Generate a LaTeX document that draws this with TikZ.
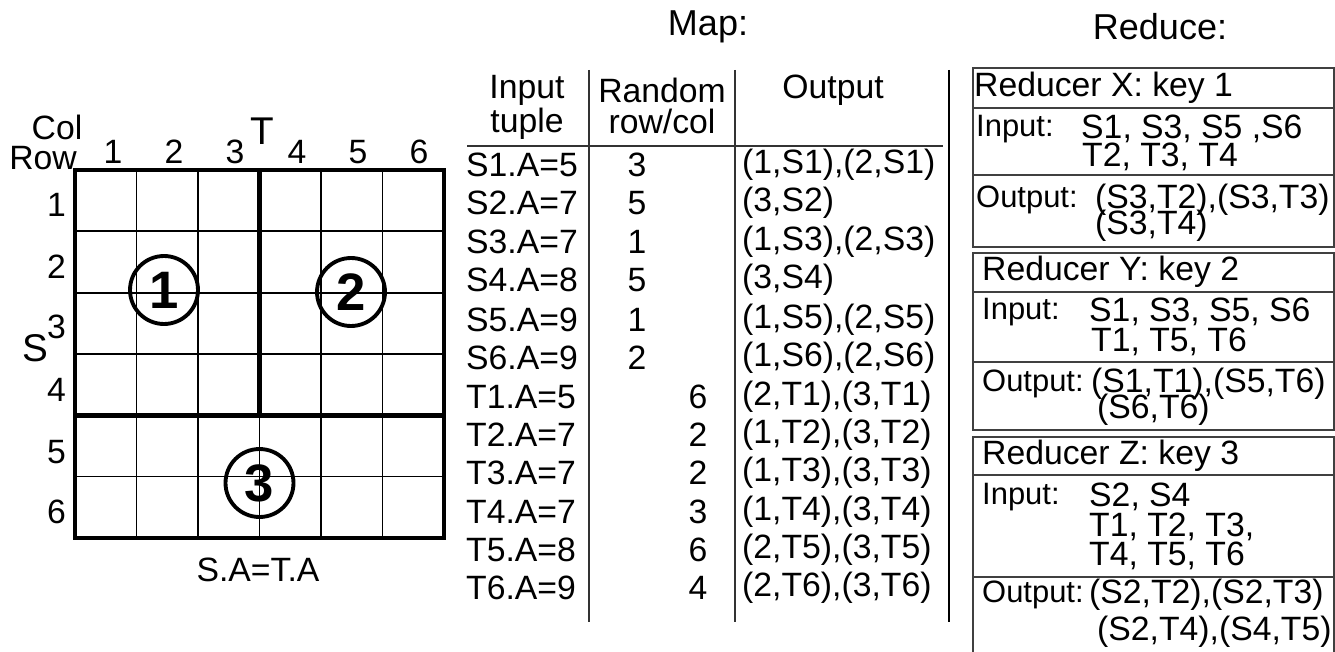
\documentclass[tikz,border=0pt]{standalone}
\usepackage{fontspec}
\setmainfont{Liberation Sans}
\begin{document}
\begin{tikzpicture}[
    x=0.02cm, y=-0.02cm,
    every node/.style={inner sep=0.5pt, font=\fontsize{19.2}{21}\selectfont},
    gridline/.style={line width=1.1pt},
    gridedge/.style={line width=2.8pt},
    tableline/.style={line width=1pt, black!80},
    boxline/.style={line width=1pt, black!75},
    blockno/.style={circle, draw, line width=2.2pt, minimum size=1.36cm,
        inner sep=0pt, font=\fontsize{30}{30}\bfseries\selectfont},
    bigletter/.style={font=\fontsize{22}{22}\selectfont},
    heading/.style={font=\fontsize{20.5}{22}\selectfont},
    boxlabel/.style={anchor=west, font=\fontsize{17.6}{19}\selectfont}
]
\useasboundingbox (0,0) rectangle (1335,652);

% Cells of the join matrix
\draw[gridline] (136.5,170) -- (136.5,538);
\draw[gridline] (198,170) -- (198,538);
\draw[gridline] (259.5,415.2) -- (259.5,538);
\draw[gridline] (321,170) -- (321,538);
\draw[gridline] (382.5,170) -- (382.5,538);
\draw[gridline] (75,231.3) -- (444,231.3);
\draw[gridline] (75,292.6) -- (444,292.6);
\draw[gridline] (75,353.9) -- (444,353.9);
\draw[gridline] (75,476.5) -- (444,476.5);

% Region borders
\draw[gridedge] (75,170) rectangle (444,538);
\draw[gridedge] (259.5,170) -- (259.5,415.2);
\draw[gridedge] (75,415.2) -- (444,415.2);

% Region numbers
\node[blockno] (b1) at (164,290) {1};
\node[blockno] (b2) at (351,292) {2};
\node[blockno] (b3) at (259.5,483) {3};

% Axis labels
\node (colhdr) at (57,127) {Col};
\node (rowhdr) at (43,158) {Row};
\node (c1) at (113,152) {1};
\node (c2) at (174,152) {2};
\node (c3) at (235,152) {3};
\node (c4) at (297,152) {4};
\node (c5) at (358,152) {5};
\node (c6) at (419,152) {6};
\node[bigletter] (tlabel) at (262,131) {T};
\node[anchor=east] (r1) at (67,205) {1};
\node[anchor=east] (r2) at (67,267) {2};
\node[anchor=east] (r3) at (67,327) {3};
\node[anchor=east] (r4) at (67,390) {4};
\node[anchor=east] (r5) at (67,452) {5};
\node[anchor=east] (r6) at (67,512) {6};
\node[bigletter] (slabel) at (35,348) {S};
\node (joincond) at (258,570) {S.A=T.A};

% Map table
\node[heading] (maptitle) at (708,27) {Map:};
\node (hinput) at (527,90) {Input};
\node (htuple) at (527,124) {tuple};
\node (hrandom) at (662,90) {Random};
\node (hrowcol) at (662,121) {row/col};
\node (houtput) at (833,90) {Output};
\draw[tableline] (467,146) -- (943,146);
\draw[tableline] (589,70) -- (589,622);
\draw[tableline] (735,70) -- (735,622);

\node[anchor=west] (s1) at (465,165) {S1.A=5};
\node[anchor=west] (s2) at (465,203) {S2.A=7};
\node[anchor=west] (s3) at (465,242) {S3.A=7};
\node[anchor=west] (s4) at (465,280) {S4.A=8};
\node[anchor=west] (s5) at (465,320) {S5.A=9};
\node[anchor=west] (s6) at (465,358) {S6.A=9};
\node[anchor=west] (t1) at (465,397) {T1.A=5};
\node[anchor=west] (t2) at (465,435) {T2.A=7};
\node[anchor=west] (t3) at (465,473) {T3.A=7};
\node[anchor=west] (t4) at (465,512) {T4.A=7};
\node[anchor=west] (t5) at (465,550) {T5.A=8};
\node[anchor=west] (t6) at (465,588) {T6.A=9};

\node (rs1) at (637,165) {3};
\node (rs2) at (637,203) {5};
\node (rs3) at (637,242) {1};
\node (rs4) at (637,280) {5};
\node (rs5) at (637,320) {1};
\node (rs6) at (637,358) {2};
\node (rt1) at (698,397) {6};
\node (rt2) at (698,435) {2};
\node (rt3) at (698,473) {2};
\node (rt4) at (698,512) {3};
\node (rt5) at (698,550) {6};
\node (rt6) at (698,588) {4};

\node[anchor=west] (os1) at (741,165) {(1,S1),(2,S1)};
\node[anchor=west] (os2) at (741,203) {(3,S2)};
\node[anchor=west] (os3) at (741,242) {(1,S3),(2,S3)};
\node[anchor=west] (os4) at (741,280) {(3,S4)};
\node[anchor=west] (os5) at (741,320) {(1,S5),(2,S5)};
\node[anchor=west] (os6) at (741,358) {(1,S6),(2,S6)};
\node[anchor=west] (ot1) at (741,397) {(2,T1),(3,T1)};
\node[anchor=west] (ot2) at (741,435) {(1,T2),(3,T2)};
\node[anchor=west] (ot3) at (741,473) {(1,T3),(3,T3)};
\node[anchor=west] (ot4) at (741,512) {(1,T4),(3,T4)};
\node[anchor=west] (ot5) at (741,550) {(2,T5),(3,T5)};
\node[anchor=west] (ot6) at (741,588) {(2,T6),(3,T6)};

% Map / reduce separator
\draw[line width=1.6pt] (949,70) -- (949,622);

% Reduce boxes
\node[heading] (redtitle) at (1160,27) {Reduce:};

\draw[boxline] (973,68) rectangle (1334,247);
\draw[boxline] (973,108) -- (1334,108);
\draw[boxline] (973,175) -- (1334,175);
\node[anchor=west] (xhead) at (973,88) {Reducer X: key 1};
\node[boxlabel] (xin) at (975,129) {Input:};
\node[anchor=west] (xinS) at (1080,129) {S1, S3, S5 ,S6};
\node[anchor=west] (xinT) at (1081,157) {T2, T3, T4};
\node[boxlabel] (xout) at (975,200) {Output:};
\node[anchor=west] (xoutA) at (1094,200) {(S3,T2),(S3,T3)};
\node[anchor=west] (xoutB) at (1094,226) {(S3,T4)};

\draw[boxline] (973,253) rectangle (1334,430);
\draw[boxline] (973,292) -- (1334,292);
\draw[boxline] (973,362) -- (1334,362);
\node[anchor=west] (yhead) at (981,272) {Reducer Y: key 2};
\node[boxlabel] (yin) at (981,312) {Input:};
\node[anchor=west] (yinS) at (1088,312) {S1, S3, S5, S6};
\node[anchor=west] (yinT) at (1090,342) {T1, T5, T6};
\node[boxlabel] (yout) at (981,384) {Output:};
\node[anchor=west] (youtA) at (1090,384) {(S1,T1),(S5,T6)};
\node[anchor=west] (youtB) at (1096,410) {(S6,T6)};

\draw[boxline] (973,652) -- (973,437) -- (1334,437) -- (1334,652);
\draw[boxline] (973,475) -- (1334,475);
\draw[boxline] (973,577) -- (1334,577);
\node[anchor=west] (zhead) at (981,456) {Reducer Z: key 3};
\node[boxlabel] (zin) at (981,497) {Input:};
\node[anchor=west] (zinS) at (1088,497) {S2, S4};
\node[anchor=west] (zinT) at (1088,527) {T1, T2, T3,};
\node[anchor=west] (zinU) at (1088,556) {T4, T5, T6};
\node[boxlabel] (zout) at (981,595) {Output:};
\node[anchor=west] (zoutA) at (1088,595) {(S2,T2),(S2,T3)};
\node[anchor=west] (zoutB) at (1096,632) {(S2,T4),(S4,T5)};
\end{tikzpicture}
\end{document}
